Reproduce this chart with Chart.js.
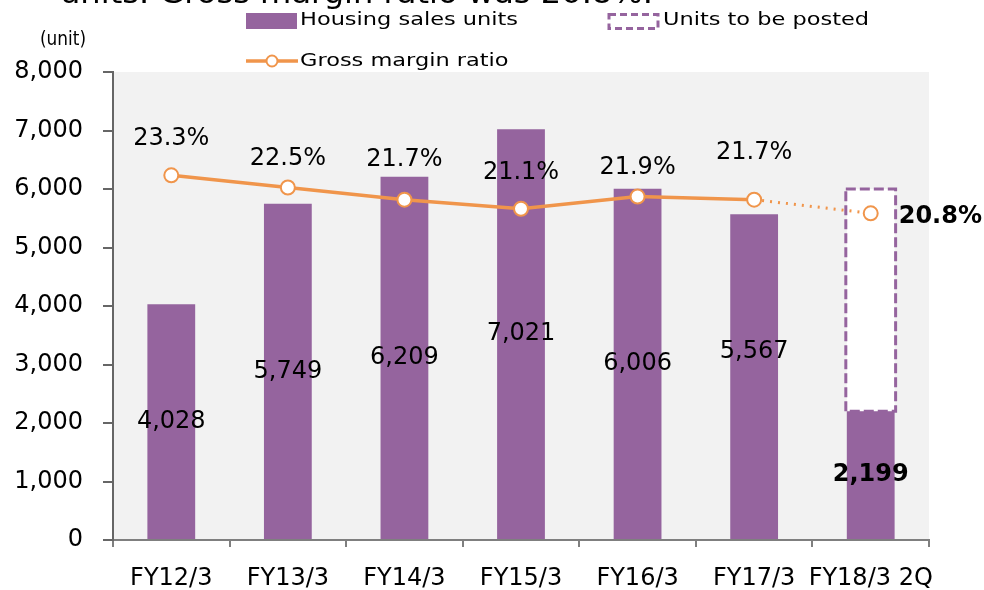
<!DOCTYPE html>
<html>
<head>
<meta charset="utf-8">
<script src="https://cdn.jsdelivr.net/npm/chart.js@4.4.0/dist/chart.umd.min.js"></script>
<style>
  body { margin:0; background:#fff; }
  #wrap { width:984px; height:590px; }
</style>
</head>
<body>
<div id="wrap"><canvas id="salesChart" width="984" height="590"></canvas></div>
<script>
// Dados
const categories = ["FY12/3","FY13/3","FY14/3","FY15/3","FY16/3","FY17/3","FY18/3 2Q"];
const salesUnits = [4028,5749,6209,7021,6006,5567,2199];
const unitsToBePosted = [null,null,null,null,null,null,3801];
const grossMargin = [23.3,22.5,21.7,21.1,21.9,21.7,20.8];
const unitTicks = [0,1000,2000,3000,4000,5000,6000,7000,8000];

// Estilos
const PURPLE = '#95649e';
const ORANGE = '#f0954b';
const FONT = '"DejaVu Sans", Verdana, sans-serif';

// deslocamentos dos rótulos (px)
const pctLabelLift = [37,29,40,36,29,47];
const barLabelShift = [0,0,0,0,0,-25,0];

// Fundo da área do gráfico
const plotBg = {
  id:'plotBg',
  beforeDraw(chart){
    const {ctx, chartArea:a} = chart;
    ctx.save();
    ctx.fillStyle = '#f2f2f2';
    ctx.fillRect(a.left, a.top, a.right-a.left, a.bottom-a.top);
    ctx.restore();
  }
};

// Caixa tracejada "Units to be posted" (depois das barras, antes da linha)
const dashedBox = {
  id:'dashedBox',
  afterDatasetDraw(chart, args){
    if(args.index !== 0) return;
    const ctx = chart.ctx;
    chart.getDatasetMeta(1).data.forEach((el,i)=>{
      if(unitsToBePosted[i] == null) return;
      const p = el.getProps(['x','y','base','width'], true);
      ctx.save();
      ctx.strokeStyle = PURPLE;
      ctx.lineWidth = 3;
      ctx.setLineDash([10,4]);
      ctx.strokeRect(p.x - p.width/2 - 1, p.y, p.width + 2, p.base - p.y);
      ctx.restore();
    });
  }
};

// texto esticado na horizontal
function wideText(ctx, txt, x, y, sx){
  ctx.save();
  ctx.translate(x, y);
  ctx.scale(sx, 1);
  ctx.fillText(txt, 0, 0);
  ctx.restore();
}

// Rótulos, legenda e títulos
const labels = {
  id:'labels',
  afterDraw(chart){
    const ctx = chart.ctx;
    ctx.save();
    ctx.fillStyle = '#000';
    ctx.textBaseline = 'middle';

    // valores das barras
    const barMeta = chart.getDatasetMeta(0);
    barMeta.data.forEach((el,i)=>{
      const p = el.getProps(['x','y','base'], true);
      const last = i === salesUnits.length-1;
      ctx.font = (last ? 'bold ' : '') + '24px ' + FONT;
      ctx.textAlign = 'center';
      ctx.fillText(salesUnits[i].toLocaleString('en-US'), p.x, (p.y+p.base)/2 + barLabelShift[i]);
    });

    // percentuais
    const lineMeta = chart.getDatasetMeta(2);
    lineMeta.data.forEach((el,i)=>{
      const txt = grossMargin[i].toFixed(1) + '%';
      if(i === grossMargin.length-1){
        ctx.font = 'bold 24px ' + FONT;
        ctx.textAlign = 'left';
        ctx.fillText(txt, el.x + 28, el.y + 3);
      } else {
        ctx.font = '24px ' + FONT;
        ctx.textAlign = 'center';
        ctx.fillText(txt, el.x, el.y - pctLabelLift[i]);
      }
    });

    // (unit)
    ctx.font = '20px ' + FONT;
    ctx.textAlign = 'left';
    wideText(ctx, '(unit)', 40, 40, 46 / ctx.measureText('(unit)').width);

    // título cortado no topo
    const title = 'units. Gross margin ratio was 20.8%.';
    ctx.font = '30px ' + FONT;
    ctx.textBaseline = 'alphabetic';
    wideText(ctx, title, 60, 3, 593 / ctx.measureText(title).width);

    // legenda
    ctx.font = '18px ' + FONT;
    ctx.textBaseline = 'middle';
    const sx = 218 / ctx.measureText('Housing sales units').width;
    ctx.fillStyle = PURPLE;
    ctx.fillRect(246, 13, 51, 16);
    ctx.fillStyle = '#000';
    wideText(ctx, 'Housing sales units', 300, 20, sx);

    ctx.strokeStyle = PURPLE;
    ctx.lineWidth = 3;
    ctx.setLineDash([7,4]);
    ctx.strokeRect(609, 14.5, 49, 14);
    ctx.setLineDash([]);
    wideText(ctx, 'Units to be posted', 663, 20, sx);

    ctx.strokeStyle = ORANGE;
    ctx.lineWidth = 3.5;
    ctx.beginPath(); ctx.moveTo(246, 61); ctx.lineTo(298, 61); ctx.stroke();
    ctx.beginPath(); ctx.arc(272, 61, 5.5, 0, Math.PI*2);
    ctx.fillStyle = '#fff'; ctx.fill();
    ctx.lineWidth = 2; ctx.stroke();
    ctx.fillStyle = '#000';
    wideText(ctx, 'Gross margin ratio', 300, 61, sx);
    ctx.restore();
  }
};

const ctx = document.getElementById('salesChart').getContext('2d');
const chart = new Chart(ctx,{
  data:{
    labels:categories,
    datasets:[
      {
        type:'bar',
        label:'Housing sales units',
        data:salesUnits,
        backgroundColor:PURPLE,
        borderWidth:0,
        order:1,
        barPercentage:0.41,
        categoryPercentage:1
      },
      {
        type:'bar',
        label:'Units to be posted',
        data:unitsToBePosted,
        backgroundColor:'#ffffff',
        borderWidth:0,
        order:2,
        barPercentage:0.41,
        categoryPercentage:1
      },
      {
        type:'line',
        label:'Gross margin ratio',
        data:grossMargin,
        yAxisID:'y1',
        borderColor:ORANGE,
        borderWidth:3.5,
        tension:0,
        pointRadius:7,
        pointBackgroundColor:'#fff',
        pointBorderColor:ORANGE,
        pointBorderWidth:2,
        order:0,
        segment:{
          borderDash: c => c.p1DataIndex === grossMargin.length-1 ? [2,6] : undefined,
          borderWidth: c => c.p1DataIndex === grossMargin.length-1 ? 3 : undefined
        }
      }
    ]
  },
  options:{
    responsive:false,
    animation:false,
    layout:{padding:{top:72, right:55, bottom:0, left:0}},
    plugins:{legend:{display:false}, tooltip:{enabled:false}},
    scales:{
      x:{
        stacked:true,
        offset:true,
        grid:{offset:true, drawOnChartArea:false, tickLength:7, color:'#7f7f7f', lineWidth:2},
        border:{color:'#7f7f7f', width:2},
        ticks:{color:'#000', font:{family:FONT, size:24}, padding:17, maxRotation:0, autoSkip:false},
        afterFit(s){ s.height = 50; }
      },
      y:{
        stacked:true,
        min:unitTicks[0],
        max:unitTicks[unitTicks.length-1],
        afterBuildTicks(s){ s.ticks = unitTicks.map(v=>({value:v})); },
        grid:{drawOnChartArea:false, tickLength:10, color:'#666', lineWidth:2},
        border:{color:'#666', width:2},
        ticks:{color:'#000', font:{family:FONT, size:24}, padding:20,
               callback:v=>v.toLocaleString('en-US')},
        afterFit(s){ s.width = 113; }
      },
      y1:{
        display:false,
        min:-0.7,
        max:30.1
      }
    }
  },
  plugins:[plotBg, dashedBox, labels]
});
</script>
</body>
</html>
